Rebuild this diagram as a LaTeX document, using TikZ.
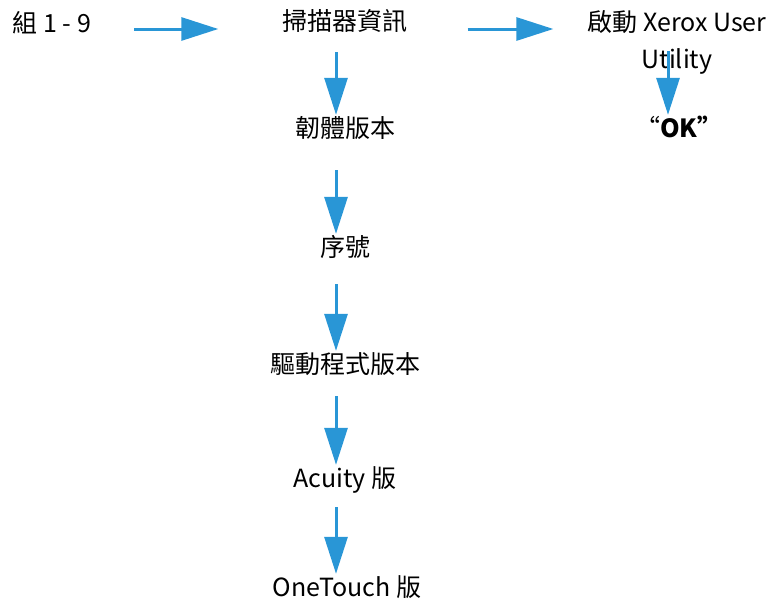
\documentclass[tikz,border=0pt]{standalone}
\usepackage{fontspec}
\setmainfont{Noto Sans CJK TC}
\usetikzlibrary{arrows.meta,calc,positioning}
\definecolor{flowblue}{RGB}{41,150,214}
\tikzset{
    txt/.style = {inner sep=0pt,
        text height=22pt,
        text depth=3pt,
        font=\fontsize{25}{35}\selectfont},
    txtblock/.style = {inner sep=0pt, align=center,
        font=\fontsize{25}{37}\selectfont},
    flow/.style = {draw=flowblue, line width=3pt,
        -{Triangle[length=37pt,width=23pt]}},
}

\begin{document}
\begin{tikzpicture}[x=1pt,y=1pt]
		\useasboundingbox (0,0) rectangle (770,-600);
		% top row
		\node [txt] (group) at (52,-22.5) {組 1 - 9};
		\node [txt] (scanner) at (345,-20.5) {掃描器資訊};
		\node [txtblock, anchor=north] (launch) at (677,-10) {啟動 Xerox User\\Utility};
		\node [txt] (ok) at (679,-127.5) {“\textbf{OK”}};
		
		% column below scanner info
		\node [txt] (firmware) at (345,-127.5) {韌體版本};
		\node [txt] (serial) at (345,-246.5) {序號};
		\node [txt] (driver) at (345,-363.5) {驅動程式版本};
		\node [txt] (acuity) at (345,-477.5) {Acuity 版};
		\node [txt] (onetouch) at (347,-586.5) {OneTouch 版};
		
		\coordinate (row) at (0,-29);
		\coordinate (spine) at (336,0);
		\coordinate (okline) at (668,0);
		
		%% connecting lines
		\draw [flow, shorten <=43pt, shorten >=64pt] (group.east |- row) -- (scanner.west |- row);
		\draw [flow, shorten <=60pt, shorten >=34pt] (scanner.east |- row) -- (launch.west |- row);
		\draw [flow, shorten <=-23pt] (launch.south -| okline) -- (ok.north -| okline);
		
		\draw [flow, shorten <=19pt] (scanner.south -| spine) -- (firmware.north -| spine);
		\draw [flow, shorten <=30pt] (firmware.south -| spine) -- (serial.north -| spine);
		\draw [flow, shorten <=25pt] (serial.south -| spine) -- (driver.north -| spine);
		\draw [flow, shorten <=20pt] (driver.south -| spine) -- (acuity.north -| spine);
		\draw [flow, shorten <=17pt] (acuity.south -| spine) -- (onetouch.north -| spine);

	\end{tikzpicture}
\end{document}
